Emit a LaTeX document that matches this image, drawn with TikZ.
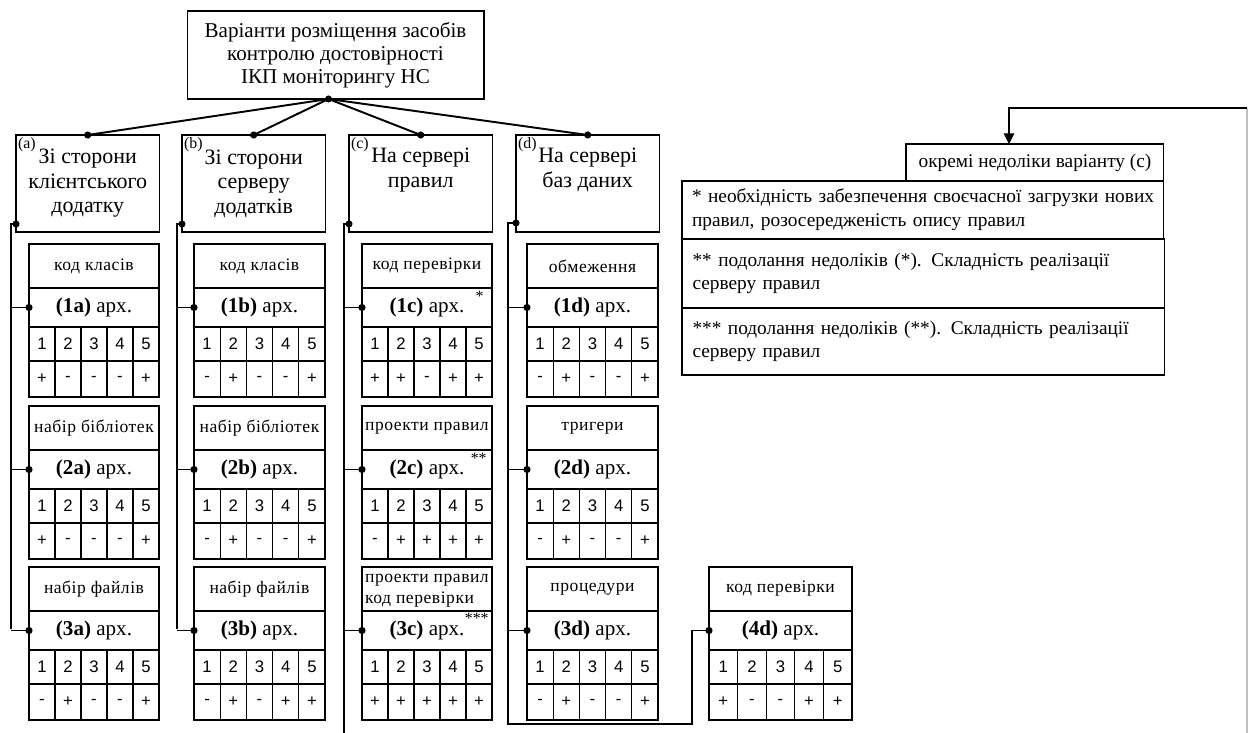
\documentclass[tikz,border=0pt]{standalone}
\usepackage{fontspec}
\setmainfont{Liberation Serif}
\newfontfamily\digitfont{Liberation Sans}
\newfontfamily\spacedfont[LetterSpace=3]{Liberation Serif}
\usetikzlibrary{arrows.meta,calc,positioning}

\tikzset{
  box/.style={draw, inner sep=0pt, outer sep=0pt, line width=0.6pt},
  lbl/.style={box, font=\spacedfont\fontsize{10}{12}\selectfont, align=center},
  arx/.style={box, font=\fontsize{12}{14}\selectfont},
  cell/.style={box, font=\digitfont\fontsize{9.5}{11}\selectfont},
  head/.style={box, font=\fontsize{12.5}{14}\selectfont, align=center,
    minimum width=2.87cm, minimum height=1.94cm, anchor=north west},
  tag/.style={inner sep=1pt, font=\fontsize{9}{10}\selectfont, anchor=north west},
  astx/.style={inner sep=0pt, font=\fontsize{9}{10}\selectfont, anchor=north east},
  note/.style={box, anchor=north west, font=\fontsize{11}{13.5}\selectfont,
    align=left, text width=9.24cm},
  bus/.style={line width=0.6pt},
  tap/.style={line width=1.1pt, -{Circle[length=4pt]}, shorten >=-2pt},
  link/.style={line width=1.1pt, -{Circle[length=4pt]}, shorten >=-2pt}
}

% block: label, architecture, digits and signs
\newcommand{\archblock}[7]{%
  \node[lbl, anchor=north west, minimum width=#4*0.02cm, minimum height=0.88cm]
    (l-#1) at (#2,#3) {#5};
  \node[arx, anchor=north west, minimum width=#4*0.02cm, minimum height=0.78cm]
    (x-#1) at (#2,#3+44) {#6};
  \foreach \s [count=\i] in {#7} {
    \node[cell, anchor=north west, minimum width=#4/5*0.02cm, minimum height=0.68cm]
      (d-#1-\i) at ({#2+(\i-1)*#4/5},#3+83) {\i};
    \node[cell, anchor=north west, minimum width=#4/5*0.02cm, minimum height=0.72cm]
      (s-#1-\i) at ({#2+(\i-1)*#4/5},#3+117) {\s};
  }
}

\begin{document}
\begin{tikzpicture}[x=0.02cm, y=-0.02cm]
\useasboundingbox (0,0) rectangle (1248,733);

% title
\node[box, minimum width=5.94cm, minimum height=1.76cm, align=center,
  font=\fontsize{12}{13}\selectfont] (title) at (335.5,55)
  {Варіанти розміщення засобів\\контролю достовірності\\ІКП моніторингу НС};
\coordinate (hub) at ($(title.south)+(-7,0)$);

% variants
\node[head] (ha) at (16,135) {Зі сторони\\клієнтського\\додатку};
\node[head] (hb) at (182,135) {Зі сторони\\серверу\\додатків};
\node[head] (hc) at (349,135) {На сервері\\правил\\\strut};
\node[head] (hd) at (516,135) {На сервері\\баз даних\\\strut};
\node[tag] (ta) at (ha.north west) {(a)};
\node[tag] (tb) at (hb.north west) {(b)};
\node[tag] (tc) at (hc.north west) {(c)};
\node[tag] (td) at (hd.north west) {(d)};

\foreach \h in {ha, hb, hc, hd}
  \draw[link] (hub) -- (\h.north);
\fill (hub) circle (2pt);

% column a
\archblock{a1}{29}{244}{130}{код класів}{\textbf{(1a)} арх.}{+,-,-,-,+}
\archblock{a2}{29}{406}{130}{набір бібліотек}{\textbf{(2a)} арх.}{+,-,-,-,+}
\archblock{a3}{29}{567}{130}{набір файлів}{\textbf{(3a)} арх.}{-,+,-,-,+}

% column b
\archblock{b1}{194}{244}{131}{код класів}{\textbf{(1b)} арх.}{-,+,-,-,+}
\archblock{b2}{194}{406}{131}{набір бібліотек}{\textbf{(2b)} арх.}{-,+,-,-,+}
\archblock{b3}{194}{567}{131}{набір файлів}{\textbf{(3b)} арх.}{-,+,-,+,+}

% column c
\archblock{c1}{362}{244}{130}{код перевірки}{\textbf{(1c)} арх.}{+,+,-,+,+}
\archblock{c2}{362}{406}{130}{проекти правил}{\textbf{(2c)} арх.}{-,+,+,+,+}
\archblock{c3}{362}{567}{130}{\begin{tabular}{@{}l@{}}проекти правил\\код перевірки\end{tabular}}{\textbf{(3c)} арх.}{+,+,+,+,+}
\node[astx] (st1) at ($(x-c1.north east)+(-8,3)$) {*};
\node[astx] (st2) at ($(x-c2.north east)+(-5,3)$) {**};
\node[astx] (st3) at ($(x-c3.north east)+(-3,2)$) {***};

% column d
\archblock{d1}{527}{244}{131}{обмеження}{\textbf{(1d)} арх.}{-,+,-,-,+}
\archblock{d2}{527}{406}{131}{тригери}{\textbf{(2d)} арх.}{-,+,-,-,+}
\archblock{d3}{527}{567}{131}{процедури}{\textbf{(3d)} арх.}{-,+,-,-,+}
\archblock{d4}{709}{567}{143}{код перевірки}{\textbf{(4d)} арх.}{+,-,-,+,+}

% buses
\coordinate (aend) at (11,629);
\coordinate (bend) at (177,629);
\coordinate (cend) at (344,733);
\coordinate (dturn) at (508,724);
\coordinate (dbend) at (692,724);

\draw[bus, {Circle[length=4pt]}-, shorten <=-2pt] ($(ha.south west)+(0,-8)$) -| (aend);
\draw[bus, {Circle[length=4pt]}-, shorten <=-2pt] ($(hb.south west)+(0,-8)$) -| (bend);
\draw[bus, {Circle[length=4pt]}-, shorten <=-2pt] ($(hc.south west)+(0,-8)$) -| (cend);
\draw[bus, {Circle[length=4pt]}-, shorten <=-2pt] ($(hd.south west)+(0,-9)$) -| (dturn) -- (dbend)
  -- (dbend |- x-d4.west);

\foreach \k in {1,2,3} {
  \draw[tap] (aend |- x-a\k.west) -- (x-a\k.west);
  \draw[tap] (bend |- x-b\k.west) -- (x-b\k.west);
  \draw[tap] (cend |- x-c\k.west) -- (x-c\k.west);
  \draw[tap] (dturn |- x-d\k.west) -- (x-d\k.west);
}
\draw[tap] (dbend |- x-d4.west) -- (x-d4.west);

% drawbacks of variant (c)
\node[box, anchor=north west, minimum width=5.16cm, minimum height=0.74cm,
  font=\fontsize{11}{13}\selectfont] (nhead) at (906,144)
  {окремі недоліки варіанту (с)};
\node[note, minimum width=9.64cm, minimum height=1.16cm] (n1) at (682,181)
  {\makebox[\linewidth][s]{* необхідність забезпечення своєчасної загрузки нових}\\
   правил, розосередженість опису правил};
\node[note, minimum width=9.66cm, minimum height=1.38cm] (n2) at (682,239)
  {** подолання недоліків (*). Складність реалізації\\серверу правил};
\node[note, minimum width=9.66cm, minimum height=1.34cm] (n3) at (682,308)
  {*** подолання недоліків (**). Складність реалізації\\серверу правил};

\coordinate (rbot) at (1247,733);
\coordinate (rtop) at (1247,108);
\coordinate (rturn) at (1009,108);
\draw[black!25, line width=0.6pt] (rbot) -- (rtop);
\draw[bus, -{Triangle[length=6pt, width=6pt]}] (rtop) -- (rturn) -- (rturn |- nhead.north);

\end{tikzpicture}
\end{document}
